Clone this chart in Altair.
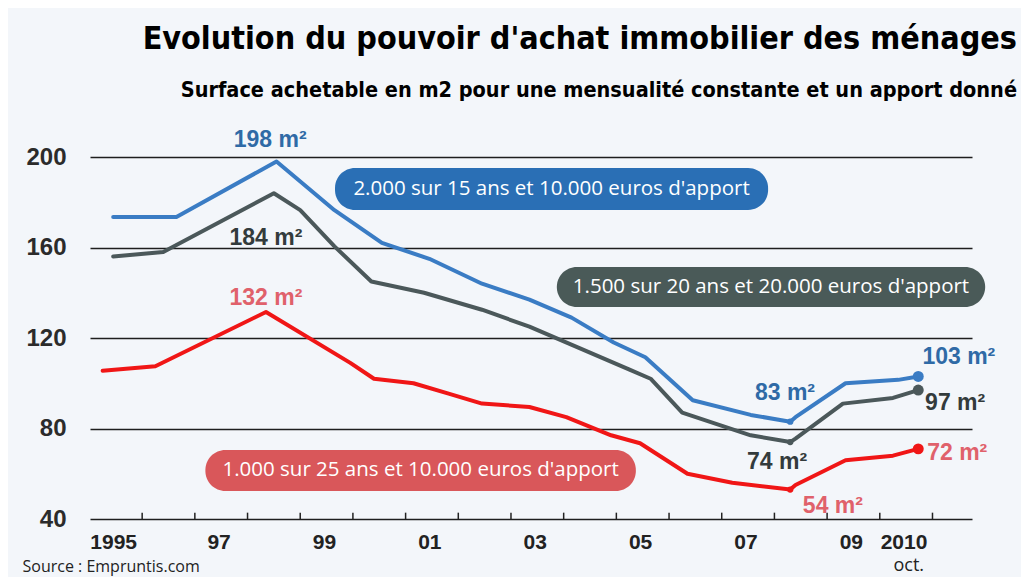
import altair as alt
import pandas as pd

# ---- series (x in fractional years, y in m2) ----
blue_t = [1995.0, 1996.2, 1998.1, 1999.2, 2000.1, 2001.0, 2002.0, 2002.9, 2003.7, 2004.5, 2005.1, 2006.0, 2007.1, 2007.85, 2007.95, 2008.9, 2009.9, 2010.28]
blue_v = [173.5, 173.5, 198, 176.5, 162, 155, 144, 137, 129, 118, 111.5, 92.5, 86, 83, 85, 100, 101.5, 103]

gray_t = [1995.0, 1995.95, 1998.05, 1998.55, 1999.2, 1999.9, 2000.9, 2002.0, 2002.9, 2003.85, 2004.8, 2005.2, 2005.8, 2007.1, 2007.85, 2007.95, 2008.85, 2009.8, 2010.28]
gray_v = [156, 158, 184, 176.5, 160.5, 145, 140, 132.5, 125, 115.5, 106, 102, 87, 77, 74, 75.5, 91, 93.5, 97]

red_t = [1994.8, 1995.8, 1997.9, 1999.5, 1999.95, 2000.7, 2001.35, 2002.0, 2002.9, 2003.6, 2004.45, 2005.0, 2005.9, 2006.75, 2007.85, 2007.95, 2008.9, 2009.8, 2010.28]
red_v = [105.5, 107.5, 131.5, 109, 102, 100, 95.5, 91, 89.5, 85, 77, 73.5, 60, 56, 53, 55, 66, 68, 71]

series_names = ["2.000 sur 15 ans", "1.500 sur 20 ans", "1.000 sur 25 ans"]
series_colors = ["#3a7cc4", "#4b585a", "#f01616"]

# markers (minimum and last point)
mark_series = ["2.000 sur 15 ans", "2.000 sur 15 ans", "1.500 sur 20 ans", "1.500 sur 20 ans", "1.000 sur 25 ans", "1.000 sur 25 ans"]
mark_t = [2007.85, 2010.28, 2007.85, 2010.28, 2007.85, 2010.28]
mark_v = [83, 103, 74, 97, 53, 71]
mark_size = [40, 120, 40, 120, 40, 120]

# value labels
lab_text = ["198 m²", "184 m²", "132 m²", "83 m²", "74 m²", "54 m²", "103 m²", "97 m²", "72 m²"]
lab_t = [1997.98, 1997.9, 1997.9, 2007.75, 2007.6, 2008.66, 2011.05, 2010.98, 2011.02]
lab_v = [207.5, 164.2, 137.7, 95.7, 65.2, 45.7, 111.6, 91.3, 69.2]
lab_color = ["#2f6aa6", "#333b3c", "#e0616b", "#2f6aa6", "#333b3c", "#e0616b", "#2f6aa6", "#333b3c", "#e0616b"]

# legend pills
pill_text = ["2.000 sur 15 ans et 10.000 euros d'apport",
             "1.500 sur 20 ans et 20.000 euros d'apport",
             "1.000 sur 25 ans et 10.000 euros d'apport"]
pill_t = [1999.21, 2003.42, 1996.75]
pill_t2 = [2007.43, 2011.55, 2004.92]
pill_v = [195.1, 151.4, 70.5]
pill_v2 = [176.6, 133.7, 52.4]
pill_color = ["#2a6fb5", "#4a5a58", "#d9575a"]

# axis ticks / labels
year_labels = [1995, 1997, 1999, 2001, 2003, 2005, 2007, 2009, 2010]
tick_t = [1995.55, 1996.55, 1997.55, 1998.55, 1999.55, 2000.55, 2001.55, 2002.55, 2003.55,
          2004.55, 2005.55, 2006.55, 2007.55, 2008.55, 2009.55, 2010.55]
y_ticks = [40, 80, 120, 160, 200]

rows = []
for name, ts, vs in zip(series_names, [blue_t, gray_t, red_t], [blue_v, gray_v, red_v]):
    for t, v in zip(ts, vs):
        rows.append({"serie": name, "t": t, "v": v})
df_lines = pd.DataFrame(rows)

df_marks = pd.DataFrame({"serie": mark_series, "t": mark_t, "v": mark_v, "s": mark_size})
df_labels = pd.DataFrame({"txt": lab_text, "t": lab_t, "v": lab_v, "c": lab_color})
df_pills = pd.DataFrame({"txt": pill_text, "t": pill_t, "t2": pill_t2, "v": pill_v, "v2": pill_v2, "c": pill_color})
df_pill_txt = pd.DataFrame({"txt": pill_text,
                            "t": [(a + b) / 2 for a, b in zip(pill_t, pill_t2)],
                            "v": [(a + b) / 2 for a, b in zip(pill_v, pill_v2)]})
df_ticks = pd.DataFrame({"t": tick_t, "v": [40] * len(tick_t), "v2": [42.8] * len(tick_t)})
df_oct = pd.DataFrame({"t": [2010.1], "v": [19.2], "txt": ["oct."]})

xscale = alt.Scale(domain=[1994.56, 2011.3], nice=False, zero=False)
yscale = alt.Scale(domain=[40, 200], nice=False, zero=False)

X = alt.X("t:Q", scale=xscale, title="Source : Empruntis.com",
          axis=alt.Axis(values=year_labels, grid=False, domain=False, ticks=False, tickSize=0,
                        labelExpr="datum.value == 1995 || datum.value == 2010 ? format(datum.value, 'd') : substring(format(datum.value, 'd'), 2)",
                        labelFont="Liberation Sans", labelFontWeight="bold", labelFontSize=21,
                        labelColor="#222222", labelPadding=12, labelBaseline="top",
                        titleFont="Open Sans", titleFontSize=16, titleFontWeight="normal", titleColor="#222222",
                        titleAnchor="start", titleAlign="left", titleBaseline="middle",
                        titleX=-68, titleY=47))
Y = alt.Y("v:Q", scale=yscale, title=None,
          axis=alt.Axis(values=y_ticks, grid=True, gridColor="#1e1e1e", gridWidth=1.6, domain=False,
                        ticks=False, tickSize=0, labelFont="Liberation Sans", labelFontWeight="bold",
                        labelFontSize=24, labelColor="#2b2b2b", labelPadding=24))

color = alt.Color("serie:N", scale=alt.Scale(domain=series_names, range=series_colors), legend=None)

lines = alt.Chart(df_lines).mark_line(strokeWidth=4, strokeJoin="round", strokeCap="round").encode(
    x=X, y=Y, color=color, order="t:Q")

dots = alt.Chart(df_marks).mark_circle(opacity=1).encode(
    x=X, y=Y, color=color, size=alt.Size("s:Q", scale=None, legend=None))

ticks = alt.Chart(df_ticks).mark_rule(color="#222222", strokeWidth=1.5).encode(
    x=X, y=Y, y2="v2:Q")

pills = alt.Chart(df_pills).mark_rect(cornerRadius=20).encode(
    x=X, x2="t2:Q", y=Y, y2="v2:Q", color=alt.Color("c:N", scale=None, legend=None))

pill_txt = alt.Chart(df_pill_txt).mark_text(font="Open Sans", fontSize=20.5, color="white",
                                            align="center", baseline="middle").encode(
    x=X, y=Y, text="txt:N")

labels = alt.Chart(df_labels).mark_text(font="Liberation Sans", fontWeight="bold", fontSize=23,
                                        align="center", baseline="middle").encode(
    x=X, y=Y, text="txt:N", color=alt.Color("c:N", scale=None, legend=None))

octo = alt.Chart(df_oct).mark_text(font="Open Sans", fontSize=18, color="#222222",
                                   align="center", baseline="middle").encode(x=X, y=Y, text="txt:N")

title_font = "'DejaVu Sans Condensed', 'Liberation Sans', sans-serif"

chart = alt.layer(ticks, pills, pill_txt, lines, dots, labels, octo).properties(
    width=882, height=362,
    autosize=alt.AutoSizeParams(type="none"),
    padding={"left": 82, "top": 149, "right": 49, "bottom": 58},
    background="#f3f6fa",
    title=alt.TitleParams(
        text="Evolution du pouvoir d'achat immobilier des ménages",
        subtitle="Surface achetable en m2 pour une mensualité constante et un apport donné",
        anchor="end", frame="group", dx=45, offset=27,
        font=title_font, fontSize=32, fontWeight="bold", color="#000000",
        subtitleFont=title_font, subtitleFontSize=21.5, subtitleFontWeight="bold",
        subtitleColor="#000000", subtitlePadding=24)
).configure_view(stroke=None)

chart.save("out.html", embed_options={"renderer": "svg", "actions": False})
